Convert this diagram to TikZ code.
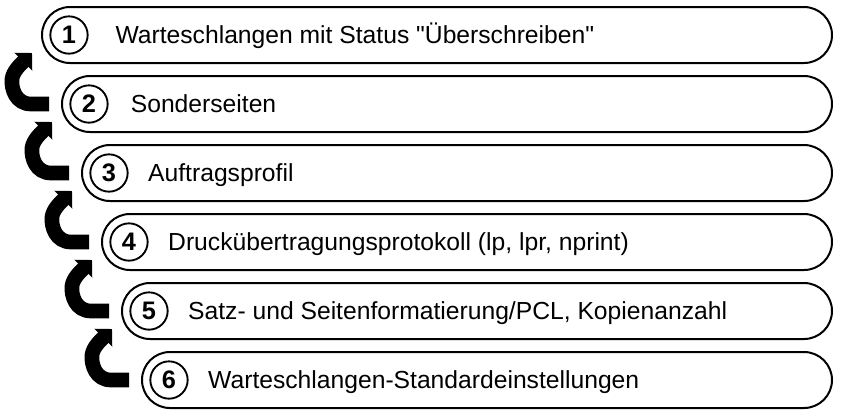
\documentclass[tikz,border=0pt]{standalone}
\usepackage{fontspec}
\setmainfont{Liberation Sans}[Ligatures=TeXOff]
\usetikzlibrary{positioning,arrows.meta}

\begin{document}
\begin{tikzpicture}[x=0.75pt,y=-0.75pt,
  stage/.style={draw,line width=1.5pt,rounded corners=21pt,minimum height=42pt,inner sep=0pt},
  num/.style={draw,circle,line width=1.4pt,minimum size=28pt,inner sep=0pt,font=\fontsize{19}{19}\selectfont\bfseries},
  stagetext/.style={inner sep=0pt,text height=13.2pt,text depth=0pt,font=\fontsize{18.5}{22}\selectfont},
  back/.style={line width=11pt,-{Triangle[angle=90:13pt]}}]
  \useasboundingbox (0,0) rectangle (865,412);
  \node[stage,minimum width=592.5pt] (b1) at (437,35) {};
  \node[stage,minimum width=577.5pt] (b2) at (447,104) {};
  \node[stage,minimum width=562.5pt] (b3) at (457,173) {};
  \node[stage,minimum width=547.5pt] (b4) at (467,242) {};
  \node[stage,minimum width=532.5pt] (b5) at (477,311) {};
  \node[stage,minimum width=517.5pt] (b6) at (487,380) {};
  \node[num] (n1) at ([xshift=21pt]b1.west) {1};
  \node[num] (n2) at ([xshift=21pt]b2.west) {2};
  \node[num] (n3) at ([xshift=21pt]b3.west) {3};
  \node[num] (n4) at ([xshift=21pt]b4.west) {4};
  \node[num] (n5) at ([xshift=21pt]b5.west) {5};
  \node[num] (n6) at ([xshift=21pt]b6.west) {6};
  \node[stagetext,right=20pt of n1] {Warteschlangen mit Status "Überschreiben"};
  \node[stagetext,right=16.5pt of n2] {Sonderseiten};
  \node[stagetext,right=14.5pt of n3] {Auftragsprofil};
  \node[stagetext,right=14.5pt of n4] {Druckübertragungsprotokoll (lp, lpr, nprint)};
  \node[stagetext,right=14.5pt of n5] {Satz- und Seitenformatierung/PCL, Kopienanzahl};
  \node[stagetext,right=14.5pt of n6] {Warteschlangen-Standardeinstellungen};
  % Rueckpfeile
  \draw[back] ([xshift=-9pt]b2.west) -- ++(-18,0) .. controls +(-15,0) and +(-1,10) .. ++(-19,-25)
    .. controls +(1,-8) and +(-11,11) .. ([shift={(-9,-11)}]b1.south west);
  \draw[back] ([xshift=-9pt]b3.west) -- ++(-18,0) .. controls +(-15,0) and +(-1,10) .. ++(-19,-25)
    .. controls +(1,-8) and +(-11,11) .. ([shift={(-9,-11)}]b2.south west);
  \draw[back] ([xshift=-9pt]b4.west) -- ++(-18,0) .. controls +(-15,0) and +(-1,10) .. ++(-19,-25)
    .. controls +(1,-8) and +(-11,11) .. ([shift={(-9,-11)}]b3.south west);
  \draw[back] ([xshift=-9pt]b5.west) -- ++(-18,0) .. controls +(-15,0) and +(-1,10) .. ++(-19,-25)
    .. controls +(1,-8) and +(-11,11) .. ([shift={(-9,-11)}]b4.south west);
  \draw[back] ([xshift=-9pt]b6.west) -- ++(-18,0) .. controls +(-15,0) and +(-1,10) .. ++(-19,-25)
    .. controls +(1,-8) and +(-11,11) .. ([shift={(-9,-11)}]b5.south west);
\end{tikzpicture}
\end{document}
